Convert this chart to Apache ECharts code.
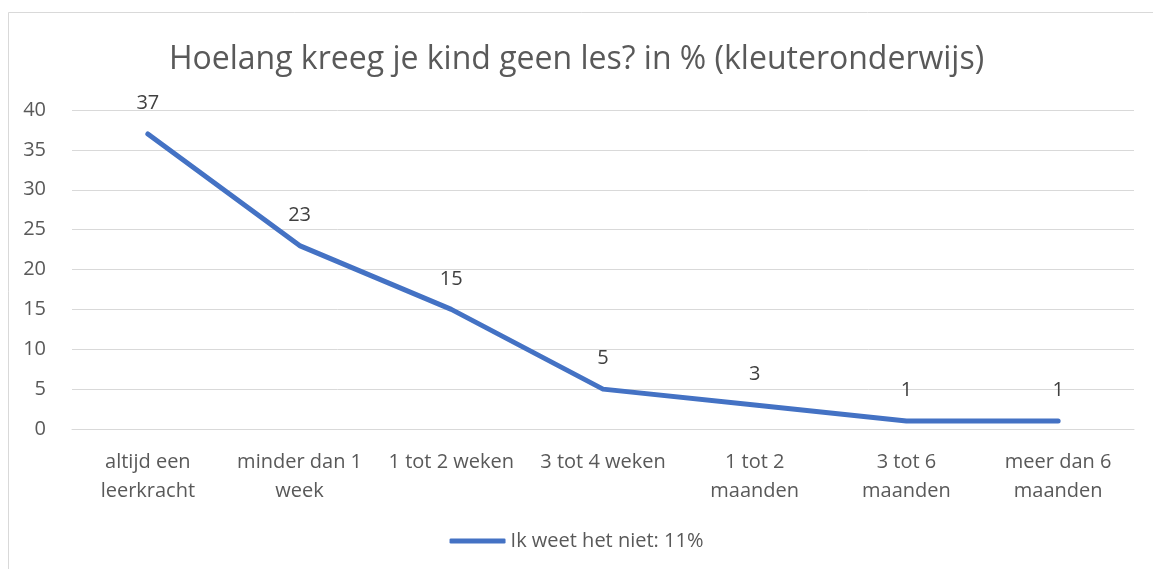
<!DOCTYPE html>
<html>
<head>
<meta charset="utf-8">
<script src="https://cdn.jsdelivr.net/npm/echarts@6/dist/echarts.min.js"></script>
<style>
html, body { margin: 0; padding: 0; background: #fff; }
#chart { width: 1153px; height: 569px; }
</style>
</head>
<body>
<div id="chart"></div>
<script>
var categories = [
    "altijd een\nleerkracht",
    "minder dan 1\nweek",
    "1 tot 2 weken",
    "3 tot 4 weken",
    "1 tot 2\nmaanden",
    "3 tot 6\nmaanden",
    "meer dan 6\nmaanden"
];
var values = [37, 23, 15, 5, 3, 1, 1];
var seriesName = "Ik weet het niet: 11%";
var titleText = "Hoelang kreeg je kind geen les? in % (kleuteronderwijs)";

var font = "'Open Sans', 'Noto Sans', sans-serif";
var myChart = echarts.init(document.getElementById("chart"));
myChart.setOption({
    animation: false,
    backgroundColor: "#ffffff",
    graphic: [
        {
            type: "rect",
            shape: {x: 8.5, y: 12.5, width: 1160, height: 570},
            style: {fill: "none", stroke: "#d9d9d9", lineWidth: 1}
        }
    ],
    title: {
        text: titleText,
        left: "center",
        top: 39,
        textStyle: {color: "#595959", fontSize: 32, fontWeight: "normal", fontFamily: font}
    },
    legend: {
        bottom: 13,
        left: "center",
        itemWidth: 56,
        itemHeight: 5,
        icon: "roundRect",
        itemGap: 4,
        textStyle: {color: "#595959", fontSize: 20, fontFamily: font},
        data: [seriesName]
    },
    grid: {left: 72, right: 19, top: 110, bottom: 140, containLabel: false},
    xAxis: {
        type: "category",
        data: categories,
        axisLine: {show: true, lineStyle: {color: "#d9d9d9", width: 1}},
        axisTick: {show: false},
        axisLabel: {color: "#595959", fontSize: 20, fontFamily: font, lineHeight: 29, margin: 19, interval: 0}
    },
    yAxis: {
        type: "value",
        min: 0,
        max: 40,
        interval: 5,
        axisLine: {show: false},
        axisTick: {show: false},
        splitLine: {lineStyle: {color: "#d9d9d9", width: 1}},
        axisLabel: {color: "#595959", fontSize: 20, fontFamily: font, margin: 26}
    },
    series: [
        {
            name: seriesName,
            type: "line",
            data: values,
            showSymbol: true,
            symbol: "circle",
            symbolSize: 1,
            lineStyle: {color: "#4472c4", width: 5, cap: "round", join: "round"},
            itemStyle: {color: "#4472c4"},
            label: {
                show: true,
                position: "top",
                distance: 20,
                color: "#404040",
                fontSize: 20,
                fontFamily: font
            }
        }
    ]
});
</script>
</body>
</html>
